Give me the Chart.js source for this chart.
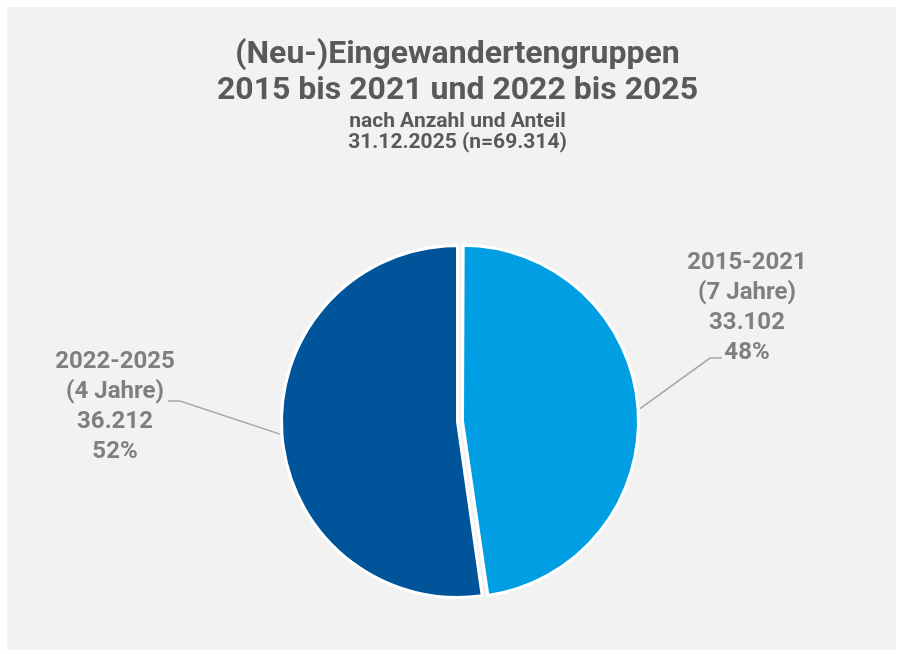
<!DOCTYPE html>
<html><head><meta charset="utf-8">
<script src="https://cdn.jsdelivr.net/npm/chart.js@4"></script>
<style>html,body{margin:0;padding:0;background:#fff;}#wrap{width:899px;height:654px;position:relative;}canvas{display:block}</style>
</head><body><div id="wrap"><canvas id="c" width="899" height="654"></canvas></div>
<script>
const categories = ["2015-2021", "2022-2025"];
const periodLabels = ["(7 Jahre)", "(4 Jahre)"];
const values = [33102, 36212];
const titleLines = ["(Neu-)Eingewandertengruppen", "2015 bis 2021 und 2022 bis 2025"];
const subtitleLines = ["nach Anzahl und Anteil", "31.12.2025 (n=69.314)"];

const sliceColors = ["#009fe3", "#00559a"];
const labelLayout = [
  {tx: 289.5, ty: -158.5, elbow: [252.5, -63.5], end: [264.5, -63.5]},
  {tx: -342.5, ty: -59.5, elbow: [-277.5, -20.5], end: [-289.5, -20.5]}
];

function fmtDE(n){ return String(n).replace(/\B(?=(\d{3})+(?!\d))/g, "."); }

const bgPlugin = {
  id: 'bg',
  beforeDraw(chart){
    const ctx = chart.ctx;
    ctx.save();
    ctx.fillStyle = '#ffffff';
    ctx.fillRect(0,0,chart.width,chart.height);
    ctx.fillStyle = '#f2f2f2';
    ctx.fillRect(7,7,889,643);
    ctx.restore();
  }
};

// Chart.js enlarges offset slices by offset/4*(1-sin(circ)); keep all slices the same radius
const equalRadiusPlugin = {
  id: 'equalRadius',
  afterDatasetsUpdate(chart){
    const meta = chart.getDatasetMeta(0);
    const R = meta.controller.outerRadius;
    meta.data.forEach(arc => {
      const off = (arc.options.offset || 0) / 4;
      const circ = arc.endAngle - arc.startAngle;
      const fix = 1 - Math.sin(Math.min(Math.PI, circ || 0));
      arc.outerRadius = R - off * fix;
    });
  }
};

const labelPlugin = {
  id: 'pieLabels',
  afterDatasetsDraw(chart){
    const ctx = chart.ctx;
    const meta = chart.getDatasetMeta(0);
    const R = meta.controller.outerRadius;
    const total = values.reduce((a,b)=>a+b,0);
    meta.data.forEach((arc, i) => {
      const p = arc.getProps(['x','y','startAngle','endAngle'], true);
      const mid = (p.startAngle + p.endAngle)/2;
      const off = (arc.options.offset || 0) / 4;
      const cx = p.x, cy = p.y;
      const r = R + 2 + off;
      const sx = cx + Math.cos(mid)*r, sy = cy + Math.sin(mid)*r;
      const L = labelLayout[i];
      ctx.save();
      ctx.strokeStyle = '#a6a6a6';
      ctx.lineWidth = 1.5;
      ctx.beginPath();
      ctx.moveTo(sx, sy);
      ctx.lineTo(cx + L.elbow[0], cy + L.elbow[1]);
      ctx.lineTo(cx + L.end[0], cy + L.end[1]);
      ctx.stroke();
      const lines = [categories[i], periodLabels[i], fmtDE(values[i]), Math.round(values[i]/total*100) + '%'];
      ctx.fillStyle = '#7f7f7f';
      ctx.font = 'bold 24px Roboto';
      ctx.textAlign = 'center';
      ctx.textBaseline = 'middle';
      lines.forEach((t, k) => {
        ctx.fillText(t, cx + L.tx, cy + L.ty + k*30);
      });
      ctx.restore();
    });
  }
};

new Chart(document.getElementById('c'), {
  type: 'pie',
  data: {
    labels: categories,
    datasets: [{
      data: values,
      backgroundColor: sliceColors,
      borderColor: '#ffffff',
      borderWidth: 3,
      offset: [20, 0],
      radius: 176
    }]
  },
  options: {
    responsive: false,
    animation: false,
    layout: {padding: {left: 16, right: 0, top: 0, bottom: 0}},
    plugins: {
      legend: {display: false},
      tooltip: {enabled: false},
      title: {
        display: true,
        text: titleLines,
        color: '#595959',
        font: {family: 'Roboto', size: 32, weight: 'bold', lineHeight: 1.12},
        padding: {top: 37, bottom: 3}
      },
      subtitle: {
        display: true,
        text: subtitleLines,
        color: '#595959',
        font: {family: 'Roboto', size: 21, weight: 'bold', lineHeight: 1.0},
        padding: {top: 0, bottom: 35.5}
      }
    }
  },
  plugins: [bgPlugin, equalRadiusPlugin, labelPlugin]
});
</script>
</body></html>
